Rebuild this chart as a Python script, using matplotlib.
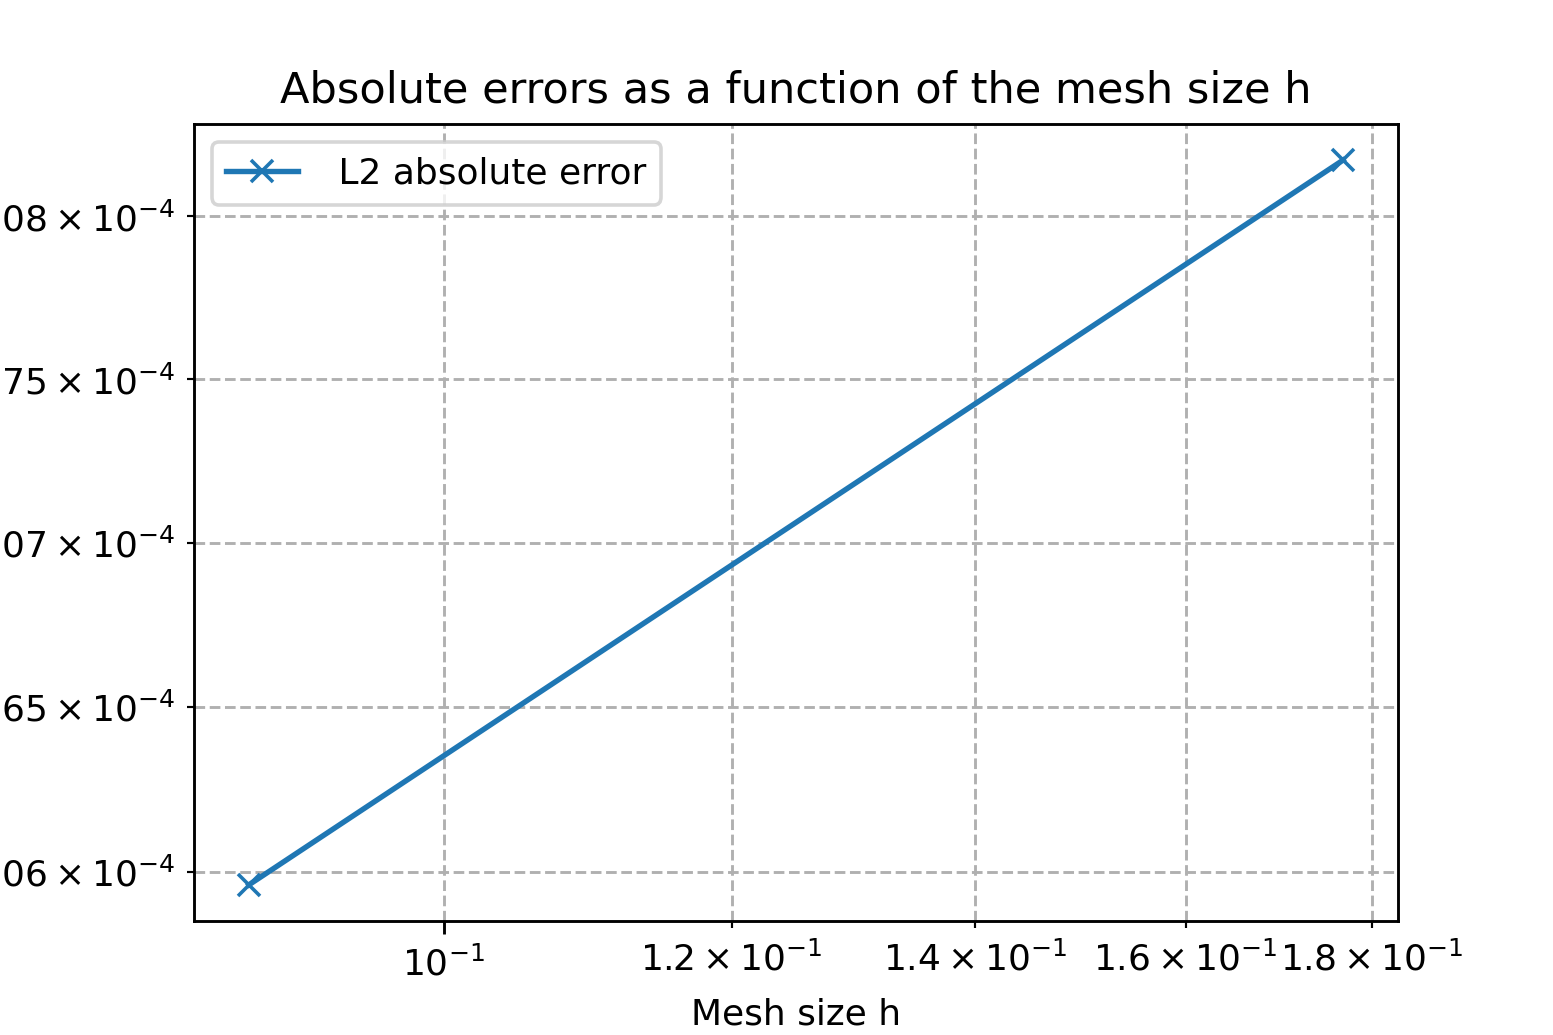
import numpy as np
import matplotlib.pyplot as plt

# mesh sizes and L2 absolute errors
h = [np.sqrt(2) / 16, np.sqrt(2) / 8]
err_l2 = [1.05961e-4, 1.08173e-4]

fig = plt.figure(figsize=(6, 4), dpi=258.85)
plt.loglog(h, err_l2, 'x-', label=' L2 absolute error')
plt.title("Absolute errors as a function of the mesh size h")
plt.xlabel("Mesh size h")
plt.grid(which='both', linestyle='--')
plt.legend(loc='upper left')

plt.savefig('out.png', dpi=258.85)
